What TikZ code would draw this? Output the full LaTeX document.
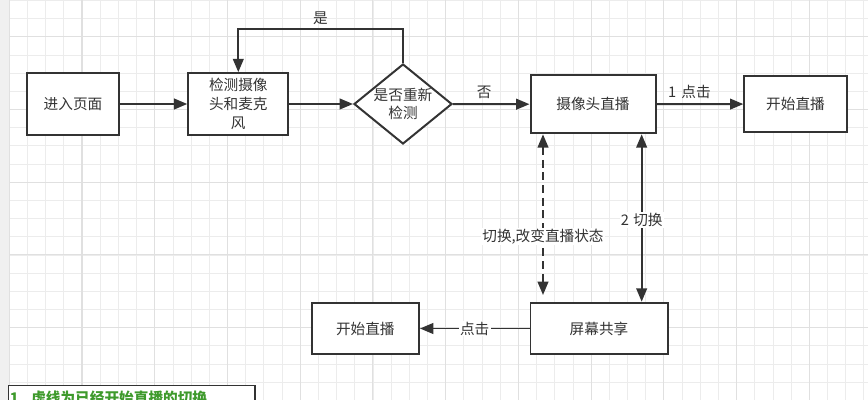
\documentclass[tikz,border=0pt]{standalone}
\usepackage{fontspec}
\setmainfont{Noto Sans CJK SC}
\usetikzlibrary{shapes, arrows.meta, positioning}
\definecolor{ink}{HTML}{333333}
\definecolor{gridminor}{HTML}{ECECEC}
\definecolor{gridmajor}{HTML}{E0E0E0}
\definecolor{notegreen}{HTML}{3E9A2C}
\tikzstyle{box} = [rectangle, draw=ink, fill=white, line width=1.7pt, text=ink, align=center, inner sep=1pt, font=\fontsize{12.5}{16}\selectfont]
\tikzstyle{decision} = [diamond, draw=ink, fill=white, line width=1.7pt, minimum width=2.94cm, minimum height=2.4cm, inner sep=0pt]
\tikzstyle{lbl} = [text=ink, font=\fontsize{12.5}{16}\selectfont, inner sep=1pt]
\tikzstyle{flow} = [-{Triangle[length=0.4cm, width=0.32cm]}, draw=ink, line width=1.7pt]
\tikzstyle{twoway} = [{Triangle[length=0.4cm, width=0.32cm]}-{Triangle[length=0.4cm, width=0.32cm]}, draw=ink, line width=1.7pt]
\tikzstyle{note} = [rectangle, draw=ink, fill=white, line width=1.2pt, text=notegreen, align=left, font=\fontsize{12.5}{16}\selectfont\bfseries]

\begin{document}
\begin{tikzpicture}[x=0.03cm, y=-0.03cm]
  \clip (0,0) rectangle (868,400);

  % 背景网格
  \fill[white] (0,0) rectangle (868,400);
  \fill[black!6] (0,0) rectangle (8.5,400);
  \foreach \k in {0,...,47}
    \draw[gridminor, line width=0.6pt] (9.3+18.18*\k,0) -- (9.3+18.18*\k,400);
  \foreach \k in {0,...,22}
    \draw[gridminor, line width=0.6pt] (9,0.34+18.18*\k) -- (868,0.34+18.18*\k);
  \foreach \k in {0,...,11}
    \draw[gridmajor, line width=0.9pt] (9.3+72.72*\k,0) -- (9.3+72.72*\k,400);
  \foreach \k in {0,...,5}
    \draw[gridmajor, line width=0.9pt] (9,36.7+72.72*\k) -- (868,36.7+72.72*\k);

  % 流程节点
  \node[box, minimum width=2.78cm, minimum height=1.85cm] (enter) at (73,104) {进入页面};
  \node[box, minimum width=3cm, minimum height=1.85cm] (detect) at (238.3,104) {检测摄像\\头和麦克\\风};
  \node[decision, label={[lbl, align=center]center:是否重新\\检测}] (chk) at (403,104) {};
  \node[box, minimum width=3.75cm, minimum height=1.74cm] (cam) at (593,104.3) {摄像头直播};
  \node[box, minimum width=3.07cm, minimum height=1.67cm] (live1) at (795.5,104) {开始直播};
  \node[box, minimum width=4.11cm, minimum height=1.55cm] (share) at (599,328.5) {屏幕共享};
  \node[box, minimum width=3.22cm, minimum height=1.55cm] (live2) at (365.3,328.5) {开始直播};

  % 说明
  \node[note, anchor=north west, inner xsep=1.5pt, inner ysep=4pt, text width=7.3cm, text depth=1cm] (tip) at (7.5,385) {1. 虚线为已经开始直播的切换};

  % 连线
  \coordinate (back) at (320.5,29);
  \draw[flow] (enter) -- (detect);
  \draw[flow] (detect) -- (chk);
  \draw[flow] (chk.north) |- (back) node[lbl, above=2pt] (yes) {是} -| (detect.north);
  \draw[flow] (chk) -- (cam) node[lbl, pos=0.41, above=3pt] (no) {否};
  \draw[flow] (cam) -- (live1) node[lbl, pos=0.38, above=3pt] (click1) {1\hspace{0.35em}点击};
  \draw[flow] (share) -- (live2) node[lbl, midway, fill=white] (click2) {点击};
  \draw[twoway, dash pattern=on 0.24cm off 0.14cm, shorten >=0.2cm] ([xshift=-1.5cm]cam.south) -- ([xshift=-1.5cm]cam.south |- share.north) node[lbl, pos=0.61, fill=white] (swap1) {切换,改变直播状态};
  \draw[twoway] ([xshift=1.46cm]cam.south) -- ([xshift=1.46cm]cam.south |- share.north) node[lbl, pos=0.51, fill=white] (swap2) {2\hspace{0.3em}切换};
\end{tikzpicture}
\end{document}
